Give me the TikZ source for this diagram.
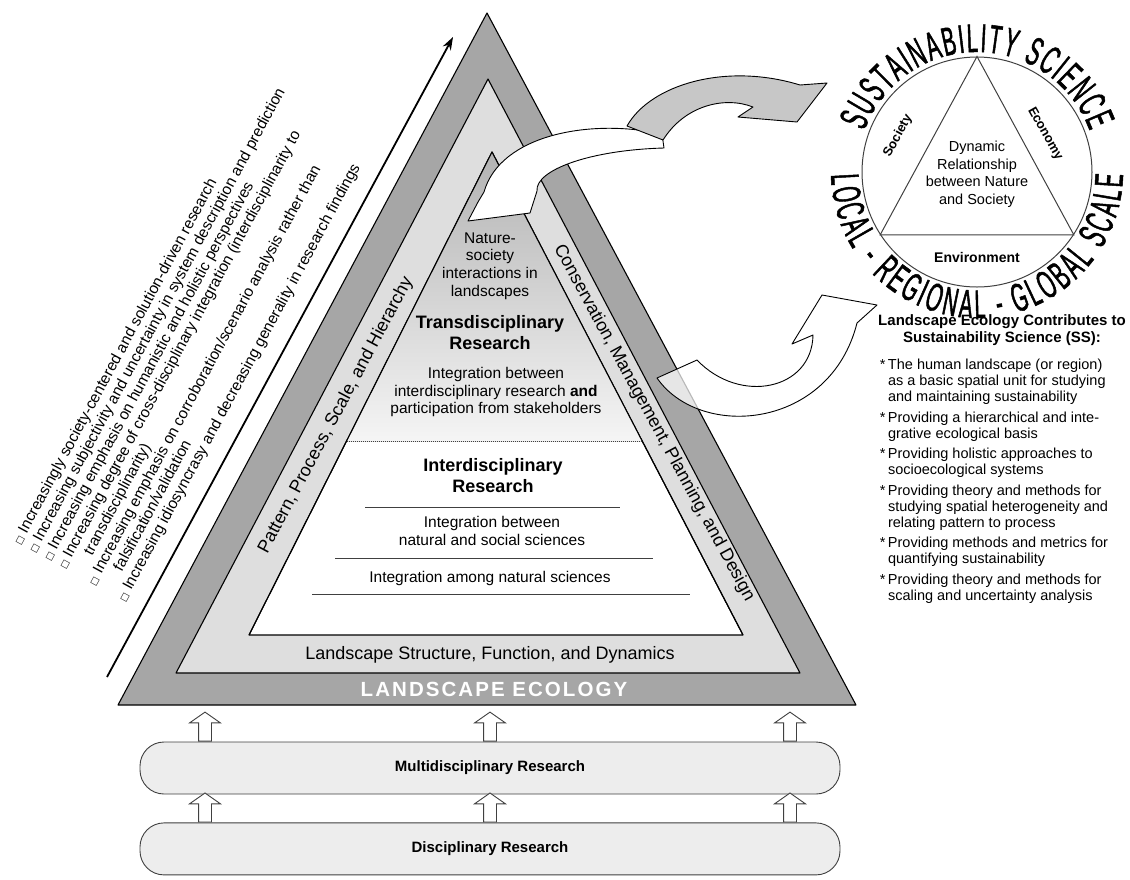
\documentclass[tikz,border=0pt]{standalone}
\usepackage{fontspec}
\setmainfont{Liberation Sans}
\newfontfamily\arcfont[FakeStretch=0.5, FakeBold=1.2]{Liberation Sans}
\newfontfamily\dejavufont{DejaVu Sans}
\usetikzlibrary{positioning, calc, shapes.arrows, arrows.meta, decorations.text}

\definecolor{bandgray}{gray}{0.65}
\definecolor{lightband}{gray}{0.87}
\definecolor{arrowfill}{gray}{0.78}
\definecolor{boxfill}{gray}{0.93}
\definecolor{linegray}{gray}{0.25}

\newcommand{\sqbullet}{{\dejavufont\fontsize{9}{9}\selectfont □}}
\newcommand{\ind}{\phantom{*\,}}

\tikzset{
  tri/.style={draw=black, line width=1.1pt, line join=round},
  bandtext/.style={font=\fontsize{18}{20}\selectfont, inner sep=0pt},
  bodytext/.style={font=\fontsize{15.5}{17.7}\selectfont, align=center, inner sep=0pt},
  headtext/.style={font=\bfseries\fontsize{18}{21}\selectfont, align=center, inner sep=0pt},
  resbox/.style={draw=linegray, line width=0.9pt, rounded corners=24pt, fill=boxfill, minimum width=700pt, minimum height=52pt, font=\bfseries\fontsize{15}{17}\selectfont},
  uparrow/.style={single arrow, draw=linegray, line width=0.9pt, fill=white, shape border rotate=90, inner sep=6pt, single arrow head extend=9pt, single arrow tip angle=110, minimum height=29pt, anchor=tail},
  curvearrow/.style={draw=black, line width=0.9pt, line join=round},
  sidetext/.style={font=\fontsize{15.5}{17}\selectfont, align=left, inner sep=0pt},
  arctext/.style={decorate, decoration={text along path, text align={fit to path}, text={|\arcfont\fontsize{40}{40}\selectfont|#1}}}
}

\begin{document}
\begin{tikzpicture}[x=1pt, y=1pt]
\useasboundingbox (0,0) rectangle (1130,-879);

% nested triangles
\draw[tri, fill=bandgray] (118,-705) -- (487,-13) -- (856,-705) -- cycle;
\draw[tri, fill=lightband] (176,-673) -- (488,-79) -- (800,-673) -- cycle;
\draw[tri, fill=white] (249,-635) -- (492,-152) -- (743,-635) -- cycle;
\fill[top color=gray!60, bottom color=gray!8] (492,-152) -- (347,-441) -- (642,-441) -- cycle;
\draw[tri] (249,-635) -- (492,-152) -- (743,-635);
\draw[densely dotted, linegray, line width=1pt] (347,-441) -- (642,-441);
\draw[linegray, line width=0.9pt] (365,-507) -- (620,-507);
\draw[linegray, line width=0.9pt] (335,-558) -- (653,-558);
\draw[linegray, line width=0.9pt] (312,-594) -- (690,-594);

% triangle texts
\node[bodytext] (nature) at (490,-266) {Nature-\\society\\interactions in\\landscapes};
\node[headtext] (transres) at (490,-333) {Transdisciplinary\\Research};
\node[bodytext] (transint) at (496,-392) {Integration between\\interdisciplinary research \textbf{and}\\participation from stakeholders};
\node[headtext] (interres) at (493,-476) {Interdisciplinary\\Research};
\node[bodytext] (interint) at (492,-531) {Integration between\\natural and social sciences};
\node[bodytext] (natint) at (490,-578) {Integration among natural sciences};
\node[bandtext] (structure) at (490,-655) {Landscape Structure, Function, and Dynamics};
\node[bandtext, rotate=62] (pattern) at (336,-415) {Pattern, Process, Scale, and Hierarchy};
\node[bandtext, rotate=-61.5] (conserv) at (654,-423) {Conservation, Management, Planning, and Design};
\node[font=\bfseries\fontsize{20.5}{22}\selectfont\addfontfeature{LetterSpace=10}, text=white] (ecology) at (494,-689) {LANDSCAPE ECOLOGY};

% trend arrow and list
\coordinate (trendtail) at (107,-677);
\coordinate (trendtip) at (453,-37);
\draw[-{Stealth[length=13pt,width=9pt]}, line width=1.8pt] (trendtail) -- (trendtip);
\node[sidetext, rotate=61.6, anchor=south west] (trends) at (128,-604) {%
\sqbullet{} Increasingly society-centered and solution-driven research\\
\sqbullet{} Increasing subjectivity and uncertainty in system description and prediction\\
\sqbullet{} Increasing emphasis on humanistic and holistic perspectives\\
\sqbullet{} Increasing degree of cross-disciplinary integration (interdisciplinarity to\\
\hspace*{1.6em}transdisciplinarity)\\
\sqbullet{} Increasing emphasis on corroboration/scenario analysis rather than\\
\hspace*{1.6em}falsification/validation\\
\sqbullet{} Increasing idiosyncrasy and decreasing generality in research findings};

% sustainability science circle
\node[circle, draw=linegray, line width=1pt, minimum size=230pt, inner sep=0pt] (ss) at (977,-172) {};
\draw[linegray, line width=1pt] (ss.90) -- (ss.213) -- (ss.327) -- cycle;
\node[font=\fontsize{14.5}{17.5}\selectfont, align=center] (dynrel) at (977,-174) {Dynamic\\Relationship\\between Nature\\and Society};
\node[font=\bfseries\fontsize{13}{15}\selectfont, rotate=61.5] (society) at (898,-136) {Society};
\node[font=\bfseries\fontsize{13}{15}\selectfont, rotate=-60.5] (economy) at (1045,-134) {Economy};
\node[font=\bfseries\fontsize{14}{16}\selectfont] (environment) at (977,-257) {Environment};
\path[arctext={SUSTAINABILITY SCIENCE}] (ss.center) ++(160:120) arc[start angle=160, end angle=20, radius=120];
\path[arctext={LOCAL - REGIONAL - GLOBAL SCALE}] (ss.center) ++(181:146) arc[start angle=181, end angle=359, radius=146];

% curved arrows between triangle and circle
\draw[curvearrow, fill=white] (662,-134) .. controls (590,-118) and (500,-135) .. (484,-192) -- (478,-202) -- (468,-221) -- (530,-213) -- (537,-191) .. controls (535,-170) and (590,-150) .. (664,-148) -- cycle;
\draw[curvearrow, fill=arrowfill] (627,-126) .. controls (650,-85) and (725,-62) .. (800,-85) -- (827,-83) -- (797,-122) -- (738,-117) -- (753,-107) .. controls (725,-96) and (685,-105) .. (663,-140) -- cycle;
\draw[curvearrow, fill=white, fill opacity=0.72] (697,-360) -- (657,-378) .. controls (700,-440) and (830,-430) .. (857,-323) -- (877,-305) -- (822,-295) -- (792,-344) -- (813,-335) .. controls (812,-390) and (740,-405) .. (697,-360) -- cycle;

% contributions list
\node[font=\bfseries\fontsize{15}{16.5}\selectfont, align=center] (contrib) at (1002,-330) {Landscape Ecology Contributes to\\Sustainability Science (SS):};
\node[font=\fontsize{14.5}{15.8}\selectfont, align=left, below=7pt of contrib, xshift=-8pt] (contriblist) {%
*\,The human landscape (or region)\\
\ind as a basic spatial unit for studying\\
\ind and maintaining sustainability\\[5pt]
*\,Providing a hierarchical and inte-\\
\ind grative ecological basis\\[5pt]
*\,Providing holistic approaches to\\
\ind socioecological systems\\[5pt]
*\,Providing theory and methods for\\
\ind studying spatial heterogeneity and\\
\ind relating pattern to process\\[5pt]
*\,Providing methods and metrics for\\
\ind quantifying sustainability\\[5pt]
*\,Providing theory and methods for\\
\ind scaling and uncertainty analysis};

% research levels
\node[resbox] (multi) at (490,-768) {Multidisciplinary Research};
\node[resbox, below=28pt of multi] (disc) {Disciplinary Research};
\foreach \dx in {-285, 0, 300} {
  \node[uparrow] at ([xshift=\dx pt]multi.north) {};
  \node[uparrow] at ([xshift=\dx pt]disc.north) {};
}
\end{tikzpicture}
\end{document}
